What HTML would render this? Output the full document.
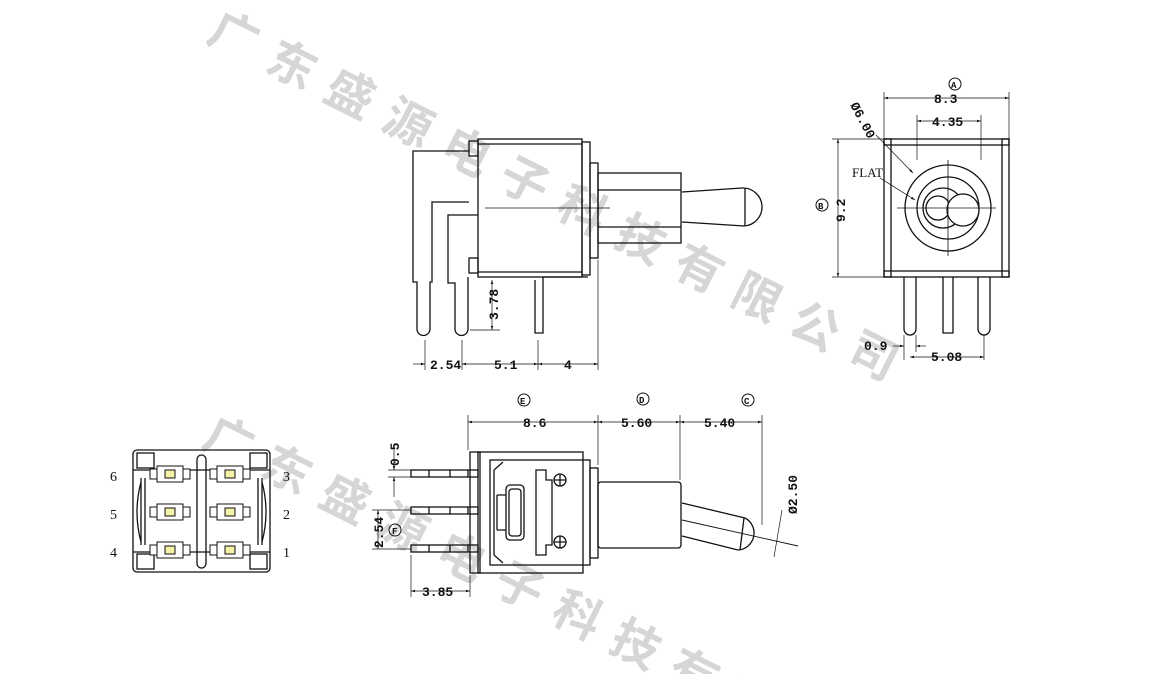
<!DOCTYPE html>
<html><head><meta charset="utf-8"><style>
html,body{margin:0;padding:0;background:#fff;overflow:hidden;width:1149px;height:674px}
svg{display:block}
text{font-family:"Liberation Mono",monospace;font-size:13px;fill:#111;font-weight:bold}
</style></head><body>
<svg width="1149" height="674" viewBox="0 0 1149 674" xmlns="http://www.w3.org/2000/svg">
<defs>
<marker id="a" viewBox="0 0 10 10" refX="10" refY="5" markerWidth="6" markerHeight="6" orient="auto-start-reverse"><path d="M0,2 L10,5 L0,8 z" fill="#111"/></marker>
</defs>
<text transform="translate(205,40) rotate(26.6)" style="fill:#d6d6d6;font-family:'Noto Sans CJK SC',sans-serif;font-size:48px;letter-spacing:17px;font-weight:bold">广东盛源电子科技有限公司</text>
<text transform="translate(200,445) rotate(26.6)" style="fill:#d6d6d6;font-family:'Noto Sans CJK SC',sans-serif;font-size:48px;letter-spacing:17px;font-weight:bold">广东盛源电子科技有限公司</text>
<g fill="none" stroke="#111" stroke-width="1.3">
<rect x="478" y="139" width="104" height="138"/>
<line x1="478" y1="144" x2="582" y2="144"/><line x1="478" y1="272" x2="582" y2="272"/>
<rect x="469" y="141" width="9" height="15"/><rect x="469" y="258" width="9" height="15"/>
<rect x="582" y="142" width="8" height="133"/>
<rect x="590" y="163" width="8" height="95"/>
<rect x="598" y="173" width="83" height="70"/>
<line x1="598" y1="190" x2="681" y2="190"/><line x1="598" y1="227" x2="681" y2="227"/>
<path d="M682,192 L742,188 A18,18 0 0 1 744,226 L682,222"/>
<line x1="745" y1="188" x2="745" y2="226"/>
<line x1="485" y1="208" x2="610" y2="208" stroke-width="0.8"/>
<path d="M469,151 H413 V282 H417 V329 A6,6 0 0 0 430,329 V282 H432 V202 H469"/>
<path d="M478,215 H448 V283 H455 V329 A6,6 0 0 0 468,329 V277"/>
<path d="M588,277 H543 V333 H535 V280"/>
<g stroke-width="0.7">
<line x1="425" y1="340" x2="425" y2="370"/><line x1="462" y1="340" x2="462" y2="370"/>
<line x1="538" y1="340" x2="538" y2="370"/><line x1="598" y1="260" x2="598" y2="370"/>
<line x1="413" y1="364" x2="425" y2="364" marker-end="url(#a)"/>
<line x1="462" y1="364" x2="538" y2="364" marker-start="url(#a)" marker-end="url(#a)"/>
<line x1="538" y1="364" x2="598" y2="364" marker-start="url(#a)" marker-end="url(#a)"/>
<line x1="470" y1="330" x2="500" y2="330"/>
<line x1="492" y1="280" x2="492" y2="330" marker-start="url(#a)" marker-end="url(#a)"/>
</g>
<rect x="884" y="139" width="125" height="138"/>
<rect x="891" y="145" width="111" height="126"/>
<rect x="884" y="139" width="7" height="6"/><rect x="1002" y="139" width="7" height="6"/>
<rect x="884" y="271" width="7" height="6"/><rect x="1002" y="271" width="7" height="6"/>
<circle cx="948" cy="208" r="43"/>
<circle cx="948" cy="208" r="31"/>
<circle cx="943" cy="208" r="20"/>
<circle cx="938" cy="208" r="12"/>
<circle cx="963" cy="210" r="16" fill="#fff"/>
<line x1="897" y1="208" x2="996" y2="208" stroke-width="0.8"/>
<line x1="948" y1="160" x2="948" y2="256" stroke-width="0.8"/>
<path d="M904,277 V329 A6,6 0 0 0 916,329 V277"/>
<path d="M943,277 V333 H953 V277"/>
<path d="M978,277 V329 A6,6 0 0 0 990,329 V277"/>
<g stroke-width="0.7">
<line x1="884" y1="92" x2="884" y2="139"/><line x1="1009" y1="92" x2="1009" y2="139"/>
<line x1="884" y1="98" x2="1009" y2="98" marker-start="url(#a)" marker-end="url(#a)"/>
<line x1="917" y1="115" x2="917" y2="160"/><line x1="981" y1="115" x2="981" y2="160"/>
<line x1="917" y1="121" x2="981" y2="121" marker-start="url(#a)" marker-end="url(#a)"/>
<line x1="832" y1="139" x2="884" y2="139"/><line x1="832" y1="277" x2="884" y2="277"/>
<line x1="838" y1="139" x2="838" y2="277" marker-start="url(#a)" marker-end="url(#a)"/>
<line x1="876" y1="135" x2="913" y2="173" marker-end="url(#a)"/>
<line x1="880" y1="178" x2="915" y2="200" marker-end="url(#a)"/>
<line x1="904" y1="335" x2="904" y2="360"/><line x1="916" y1="335" x2="916" y2="352"/>
<line x1="984" y1="335" x2="984" y2="360"/>
<line x1="893" y1="346" x2="904" y2="346" marker-end="url(#a)"/>
<line x1="926" y1="346" x2="916" y2="346" marker-end="url(#a)"/>
<line x1="910" y1="357" x2="984" y2="357" marker-start="url(#a)" marker-end="url(#a)"/>
</g>
<rect x="470" y="452" width="10" height="121"/>
<rect x="478" y="452" width="105" height="121"/>
<rect x="490" y="460" width="100" height="105"/>
<path d="M494,470 L503,462 M494,555 L503,563 M494,470 V555"/>
<rect x="590" y="468" width="8" height="90"/>
<rect x="598" y="482" width="83" height="66" rx="3"/>
<path d="M682,503 L745,518 M682,536 L738,550"/>
<path d="M745,518 A17,17 0 0 1 738,550"/>
<line x1="744" y1="518" x2="740" y2="550"/>
<line x1="682" y1="520" x2="798" y2="546" stroke-width="0.9"/>
<rect x="506" y="485" width="18" height="55" rx="4"/>
<rect x="509" y="489" width="12" height="47" rx="3"/>
<path d="M497,495 H506 M497,530 H506 M497,495 V530"/>
<path d="M536,470 H546 V480 H552 V545 H546 V555 H536 Z"/>
<circle cx="560" cy="480" r="6"/><path d="M554,480 H566 M560,474 V486"/>
<circle cx="560" cy="542" r="6"/><path d="M554,542 H566 M560,536 V548"/>
<rect x="411" y="470" width="67" height="7"/><rect x="411" y="507" width="67" height="7"/><rect x="411" y="545" width="67" height="7"/>
<path d="M429,470 V477 M450,470 V477 M468,470 V477 M429,507 V514 M450,507 V514 M468,507 V514 M429,545 V552 M450,545 V552 M468,545 V552"/>
<g stroke-width="0.7">
<line x1="468" y1="415" x2="468" y2="450"/><line x1="598" y1="415" x2="598" y2="465"/>
<line x1="680" y1="415" x2="680" y2="480"/><line x1="762" y1="415" x2="762" y2="525"/>
<line x1="468" y1="422" x2="598" y2="422" marker-start="url(#a)" marker-end="url(#a)"/>
<line x1="598" y1="422" x2="680" y2="422" marker-start="url(#a)" marker-end="url(#a)"/>
<line x1="680" y1="422" x2="762" y2="422" marker-start="url(#a)" marker-end="url(#a)"/>
<line x1="388" y1="470" x2="411" y2="470"/><line x1="388" y1="477" x2="411" y2="477"/>
<line x1="394" y1="450" x2="394" y2="470" marker-end="url(#a)"/>
<line x1="394" y1="497" x2="394" y2="477" marker-end="url(#a)"/>
<line x1="372" y1="510" x2="411" y2="510"/><line x1="372" y1="549" x2="411" y2="549"/>
<line x1="378" y1="510" x2="378" y2="549" marker-start="url(#a)" marker-end="url(#a)"/>
<line x1="411" y1="555" x2="411" y2="597"/><line x1="470" y1="575" x2="470" y2="597"/>
<line x1="411" y1="591" x2="470" y2="591" marker-start="url(#a)" marker-end="url(#a)"/>
<line x1="782" y1="510" x2="774" y2="557" />
</g>
<rect x="133" y="450" width="137" height="122" rx="4"/>
<rect x="137" y="453" width="17" height="15"/><rect x="250" y="453" width="17" height="15"/>
<rect x="137" y="554" width="17" height="15"/><rect x="250" y="554" width="17" height="15"/>
<path d="M133,470 H270 M133,552 H270"/>
<rect x="197" y="455" width="9" height="113" rx="4.5"/>
<path d="M141,478 V545 M145,478 V545 M262,478 V545 M258,478 V545"/>
<path d="M141,482 Q133,512 141,542 M262,482 Q270,512 262,542"/>
</g>
<g stroke="#111" stroke-width="1" fill="#fff">
<g id="c"><rect x="150" y="469" width="40" height="10"/><rect x="157" y="466" width="26" height="16"/><rect x="165" y="470" width="10" height="8" fill="#f5f0a8"/></g>
<use href="#c" x="60"/><use href="#c" y="38"/><use href="#c" x="60" y="38"/><use href="#c" y="76"/><use href="#c" x="60" y="76"/>
</g>
<text x="430" y="369">2.54</text><text x="494" y="369">5.1</text><text x="564" y="369">4</text>
<text transform="translate(498,320) rotate(-90)">3.78</text>
<text x="934" y="103">8.3</text><text x="932" y="126">4.35</text>
<text transform="translate(845,222) rotate(-90)">9.2</text>
<text x="852" y="177" style="font-family:'Liberation Serif',serif;font-weight:normal;font-size:13px">FLAT</text>
<text transform="translate(850,105) rotate(62)">Ø6.00</text>
<text x="864" y="350">0.9</text><text x="931" y="361">5.08</text>
<text x="523" y="427">8.6</text><text x="621" y="427">5.60</text><text x="704" y="427">5.40</text>
<text transform="translate(399,466) rotate(-90)">0.5</text>
<text transform="translate(383,548) rotate(-90)">2.54</text>
<text x="422" y="596">3.85</text>
<text transform="translate(797,514) rotate(-90)">Ø2.50</text>
<g>
<text x="110" y="481" style="font-family:'Liberation Serif',serif;font-size:14px;font-weight:normal">6</text><text x="110" y="519" style="font-family:'Liberation Serif',serif;font-size:14px;font-weight:normal">5</text><text x="110" y="557" style="font-family:'Liberation Serif',serif;font-size:14px;font-weight:normal">4</text>
<text x="283" y="481" style="font-family:'Liberation Serif',serif;font-size:14px;font-weight:normal">3</text><text x="283" y="519" style="font-family:'Liberation Serif',serif;font-size:14px;font-weight:normal">2</text><text x="283" y="557" style="font-family:'Liberation Serif',serif;font-size:14px;font-weight:normal">1</text>
</g>
<g fill="none" stroke="#111" stroke-width="1">
<circle cx="955" cy="84" r="6"/><circle cx="822" cy="205" r="6"/>
<circle cx="524" cy="400" r="6"/><circle cx="643" cy="399" r="6"/><circle cx="748" cy="400" r="6"/>
<circle cx="395" cy="530" r="6"/>
</g>
<g>
<text x="951" y="88" style="font-size:9px">A</text><text x="818" y="209" style="font-size:9px">B</text>
<text x="520" y="404" style="font-size:9px">E</text><text x="639" y="403" style="font-size:9px">D</text><text x="744" y="404" style="font-size:9px">C</text>
<text x="392" y="534" style="font-size:9px">F</text>
</g>
</svg>
</body></html>
